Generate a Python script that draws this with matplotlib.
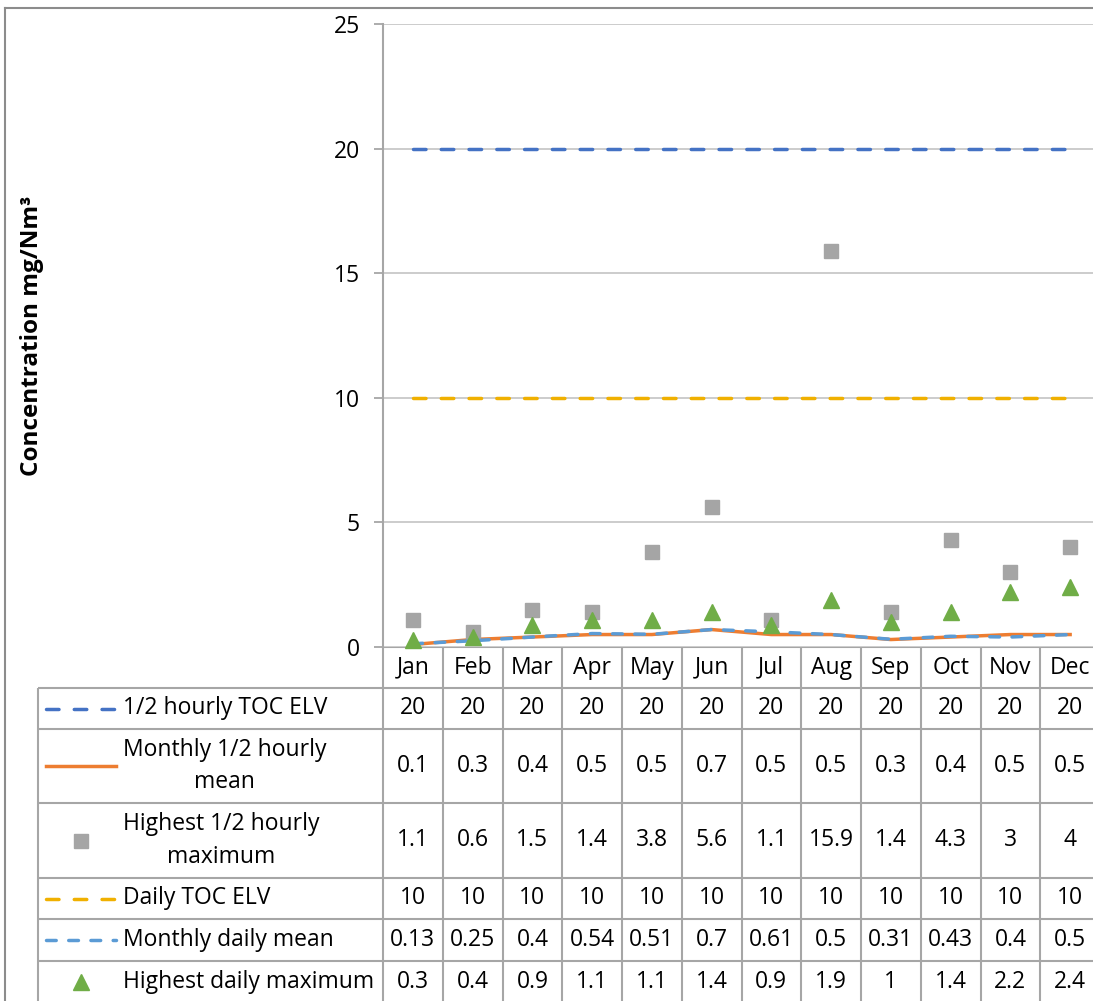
import matplotlib.pyplot as plt

# data
months = ["Jan", "Feb", "Mar", "Apr", "May", "Jun", "Jul", "Aug", "Sep", "Oct", "Nov", "Dec"]
half_hourly_elv = [20, 20, 20, 20, 20, 20, 20, 20, 20, 20, 20, 20]
monthly_half_hourly_mean = [0.1, 0.3, 0.4, 0.5, 0.5, 0.7, 0.5, 0.5, 0.3, 0.4, 0.5, 0.5]
highest_half_hourly_max = [1.1, 0.6, 1.5, 1.4, 3.8, 5.6, 1.1, 15.9, 1.4, 4.3, 3, 4]
daily_elv = [10, 10, 10, 10, 10, 10, 10, 10, 10, 10, 10, 10]
monthly_daily_mean = [0.13, 0.25, 0.4, 0.54, 0.51, 0.7, 0.61, 0.5, 0.31, 0.43, 0.4, 0.5]
highest_daily_max = [0.3, 0.4, 0.9, 1.1, 1.1, 1.4, 0.9, 1.9, 1, 1.4, 2.2, 2.4]

series_names = ["1/2 hourly TOC ELV", "Monthly 1/2 hourly\nmean", "Highest 1/2 hourly\nmaximum",
                "Daily TOC ELV", "Monthly daily mean", "Highest daily maximum"]

plt.rcParams['font.family'] = ['Open Sans', 'DejaVu Sans']

W, H = 1093, 1001
fig = plt.figure(figsize=(W / 100, H / 100), dpi=100)

GRID = '#C8C8C8'
LINE = '#A6A6A6'
FS = 16.5

# plot area in pixels
px_left, px_right, px_top, px_bottom = 383, 1100, 24, 647
ax = fig.add_axes([px_left / W, 1 - px_bottom / H, (px_right - px_left) / W, (px_bottom - px_top) / H])
x = list(range(len(months)))

styles = [
    dict(color='#4472C4', lw=2.5, ls=(0, (3.6, 4.4)), dash_capstyle='round', marker=None),
    dict(color='#ED7D31', lw=2.5, ls='-', marker=None),
    dict(color='#A5A5A5', lw=0, ls='none', marker='s', ms=10),
    dict(color='#F0B000', lw=2.5, ls=(0, (3.6, 4.4)), dash_capstyle='round', marker=None),
    dict(color='#5B9BD5', lw=2.5, ls=(0, (2.8, 3.6)), dash_capstyle='round', marker=None),
    dict(color='#70AD47', lw=0, ls='none', marker='^', ms=11),
]
all_series = [half_hourly_elv, monthly_half_hourly_mean, highest_half_hourly_max,
              daily_elv, monthly_daily_mean, highest_daily_max]

for i, (vals, st) in enumerate(zip(all_series, styles)):
    ax.plot(x, vals, zorder=3 + i, clip_on=False, **st)

ax.set_xlim(-0.5, 11.5)
ax.set_ylim(0, 25)
ax.set_yticks([0, 5, 10, 15, 20, 25])
ax.set_xticks([])
ax.yaxis.grid(True, color=GRID, lw=1.3)
ax.set_axisbelow(True)
for s in ['top', 'right', 'bottom']:
    ax.spines[s].set_visible(False)
ax.spines['left'].set_color(LINE)
ax.spines['left'].set_linewidth(1.5)
ax.tick_params(axis='y', length=6.5, width=1.3, color=LINE, labelsize=FS, pad=10)
ax.set_ylabel("Concentration mg/Nm³", fontsize=17.5, fontweight='bold', labelpad=0)
ax.yaxis.set_label_coords((44 - px_left) / (px_right - px_left), 0.5)

# overlay in pixel coordinates for the data table and chart border
ov = fig.add_axes([0, 0, 1, 1], zorder=-1)
ov.set_xlim(0, W)
ov.set_ylim(H, 0)
ov.axis('off')

# chart border
ov.plot([5, 5], [8, H + 5], color='#8C8C8C', lw=1.5)
ov.plot([5, W + 5], [8, 8], color='#8C8C8C', lw=1.5)

col_w = (px_right - px_left) / len(months)
rows = [647, 688, 729, 803, 878, 919, 961, 1003]
leg_left = 38
tl = dict(color=LINE, lw=1.5, solid_capstyle='butt')

ov.plot([px_left, W + 10], [rows[0], rows[0]], **tl)
for y in rows[1:]:
    ov.plot([leg_left, W + 10], [y, y], **tl)
ov.plot([leg_left, leg_left], [rows[1], rows[-1]], **tl)
ov.plot([px_left, px_left], [px_bottom, rows[-1]], **tl)
for i in range(1, len(months) + 1):
    xx = px_left + i * col_w
    ov.plot([xx, xx], [rows[0], rows[-1]], **tl)

# month header
for i, m in enumerate(months):
    ov.text(px_left + (i + 0.5) * col_w, (rows[0] + rows[1]) / 2, m,
            ha='center', va='center', fontsize=FS)

# table rows
for r, (name, vals, st) in enumerate(zip(series_names, all_series, styles)):
    yc = (rows[r + 1] + rows[r + 2]) / 2
    if st['marker'] is None:
        ov.plot([46, 116], [yc, yc], color=st['color'], lw=st['lw'], ls=st['ls'],
                dash_capstyle=st.get('dash_capstyle', 'butt'))
    else:
        ov.plot([81], [yc], color=st['color'], marker=st['marker'], ms=st['ms'], ls='none')
    ov.text(123, yc, name, ha='left', va='center', multialignment='center',
            fontsize=FS, linespacing=1.45)
    for i, v in enumerate(vals):
        ov.text(px_left + (i + 0.5) * col_w, yc, '{:g}'.format(v),
                ha='center', va='center', fontsize=FS)

fig.savefig('out.png', dpi=100)
